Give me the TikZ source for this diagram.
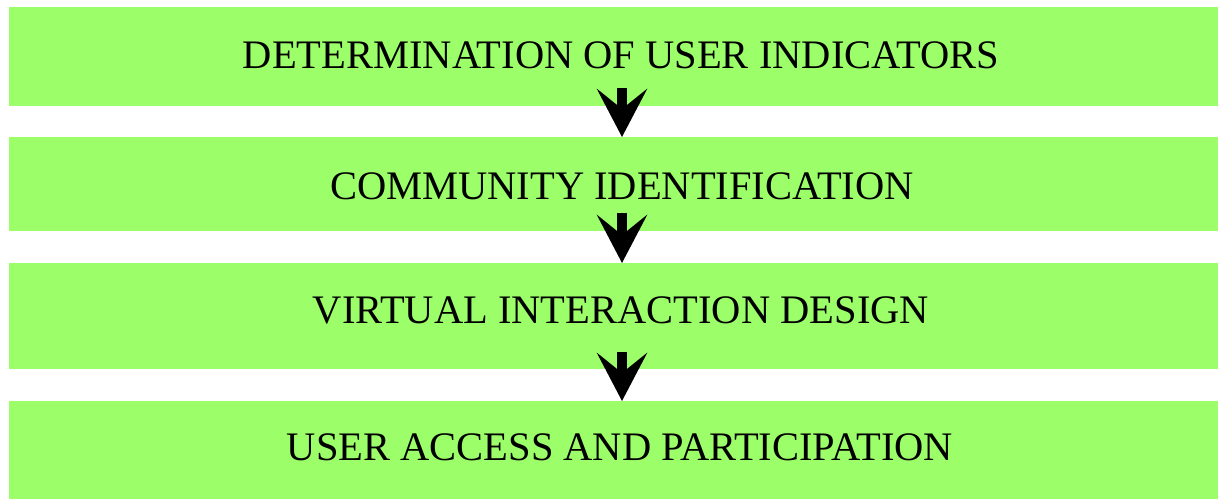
\documentclass[tikz,border=0pt]{standalone}
\usepackage{fontspec}
\setmainfont{Liberation Serif}
\usetikzlibrary{arrows.meta}
\definecolor{boxgreen}{RGB}{156,255,106}
\tikzset{
  box/.style={fill=boxgreen, draw=none, anchor=north west, minimum width=1209pt, inner sep=0pt, outer sep=0pt},
  label/.style={font=\fontsize{40.5}{45}\selectfont, inner sep=0pt, text=black},
  arr/.style={line width=10pt, -{Stealth[length=48pt,width=50pt,inset=20pt]}, black, shorten >=0pt}
}
\begin{document}
\begin{tikzpicture}[x=1pt,y=-1pt]
\useasboundingbox (0,0) rectangle (1218,499);
\node[box, minimum height=99pt] (b1) at (9,7) {};
\node[box, minimum height=94pt] (b2) at (9,137) {};
\node[box, minimum height=106pt] (b3) at (9,263) {};
\node[box, minimum height=98pt] (b4) at (9,401) {};
\node[label] (t1) at (621,55.5) {DETERMINATION OF USER INDICATORS};
\node[label] (t2) at (622,186) {COMMUNITY IDENTIFICATION};
\node[label] (t3) at (621,310) {VIRTUAL INTERACTION DESIGN};
\node[label] (t4) at (620,447.5) {USER ACCESS AND PARTICIPATION};
\coordinate (a1) at (622,88);
\coordinate (a2) at (622,213);
\coordinate (a3) at (622,352);
\draw[arr] (a1) -- (a1 |- b2.north);
\draw[arr] (a2) -- (a2 |- b3.north);
\draw[arr] (a3) -- (a3 |- b4.north);
\end{tikzpicture}
\end{document}
